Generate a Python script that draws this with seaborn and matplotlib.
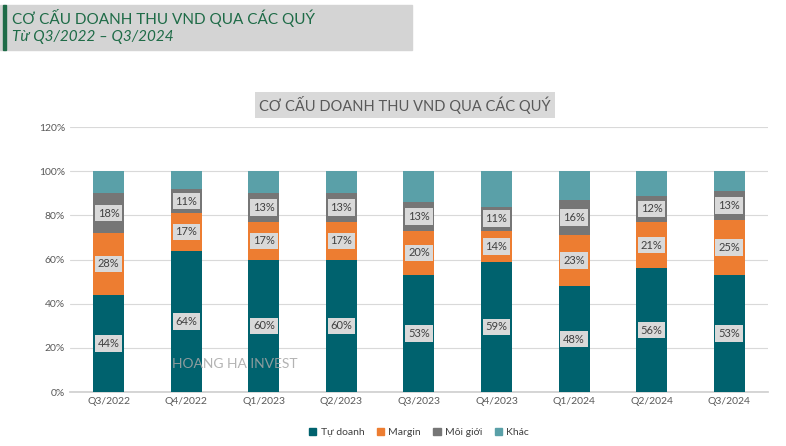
import matplotlib.pyplot as plt
import matplotlib.patches as mpatches
from matplotlib.ticker import PercentFormatter
import numpy as np
import pandas as pd
import seaborn as sns

quarters = ['Q3/2022', 'Q4/2022', 'Q1/2023', 'Q2/2023', 'Q3/2023',
            'Q4/2023', 'Q1/2024', 'Q2/2024', 'Q3/2024']
tu_doanh = [44, 64, 60, 60, 53, 59, 48, 56, 53]
margin = [28, 17, 17, 17, 20, 14, 23, 21, 25]
moi_gioi = [18, 11, 13, 13, 13, 11, 16, 12, 13]
khac = [10, 8, 10, 10, 14, 16, 13, 11, 9]

series = ['Tự doanh', 'Margin', 'Môi giới', 'Khác']
colors = ['#00626e', '#ed7d31', '#767676', '#5aa0a8']

df = pd.DataFrame({'Quý': quarters, 'Tự doanh': tu_doanh, 'Margin': margin,
                   'Môi giới': moi_gioi, 'Khác': khac})

sns.set_theme(style='white')
plt.rcParams['font.family'] = ['Lato', 'DejaVu Sans']

fig = plt.figure(figsize=(7.86, 4.46), dpi=100)
ax = fig.add_axes([0.089, 0.121, 0.888, 0.594])

# header box
fig.patches.append(mpatches.Rectangle((0, 1 - 50 / 446), 412 / 786, 45 / 446,
                                      transform=fig.transFigure, color='#d4d4d4', zorder=0))
fig.patches.append(mpatches.Rectangle((3 / 786, 1 - 50 / 446), 2.5 / 786, 45 / 446,
                                      transform=fig.transFigure, color='#1e6b47', zorder=1))
fig.text(12 / 786, 1 - 18 / 446, 'CƠ CẤU DOANH THU VND QUA CÁC QUÝ', color='#1e6b47',
         fontsize=11, va='center', ha='left')
fig.text(12 / 786, 1 - 37 / 446, 'Từ Q3/2022 – Q3/2024', color='#1e6b47',
         fontsize=11, va='center', ha='left', style='italic')

# chart title
fig.text(405 / 786, 1 - 105 / 446, 'CƠ CẤU DOANH THU VND QUA CÁC QUÝ', color='#595959',
         fontsize=10.5, ha='center', va='center',
         bbox=dict(facecolor='#d9d9d9', edgecolor='none', pad=3))

bottom = np.zeros(len(quarters))
for name, col in zip(series, colors):
    vals = df[name].to_numpy()
    sns.barplot(data=df, x='Quý', y=name, color=col, bottom=bottom, width=0.4,
                saturation=1, ax=ax, label=name, zorder=3, edgecolor='none',
                linewidth=0)
    if name != 'Khác':
        for i, v in enumerate(vals):
            ax.text(i, bottom[i] + v / 2, f'{v}%', ha='center', va='center',
                    fontsize=8, color='#404040', zorder=5,
                    bbox=dict(facecolor='#d9d9d9', edgecolor='none', pad=2))
    bottom = bottom + vals

ax.set_ylim(0, 120)
ax.set_yticks(np.arange(0, 121, 20))
ax.yaxis.set_major_formatter(PercentFormatter(decimals=0))
ax.set_xlim(-0.5, len(quarters) - 0.5)
ax.set_xlabel('')
ax.set_ylabel('')
ax.grid(axis='y', color='#d9d9d9', linewidth=0.8, zorder=0)
for s in ['top', 'right', 'left']:
    ax.spines[s].set_visible(False)
ax.spines['bottom'].set_color('#d0d0d0')
ax.tick_params(axis='both', labelsize=7.5, colors='#595959', length=0)

ax.text(0.146, 0.09, 'HOANG HA INVEST', transform=ax.transAxes, fontsize=10,
        color='#a6a6a6', alpha=0.85, zorder=6)

handles = [mpatches.Patch(color=c, label=n) for n, c in zip(series, colors)]
ax.legend(handles=handles, loc='upper center', bbox_to_anchor=(0.5, -0.1), ncol=4,
          frameon=False, fontsize=7.5, handlelength=0.7, handleheight=0.7,
          handletextpad=0.4, columnspacing=1.2, labelcolor='#404040')

fig.savefig('out.png', dpi=100)
